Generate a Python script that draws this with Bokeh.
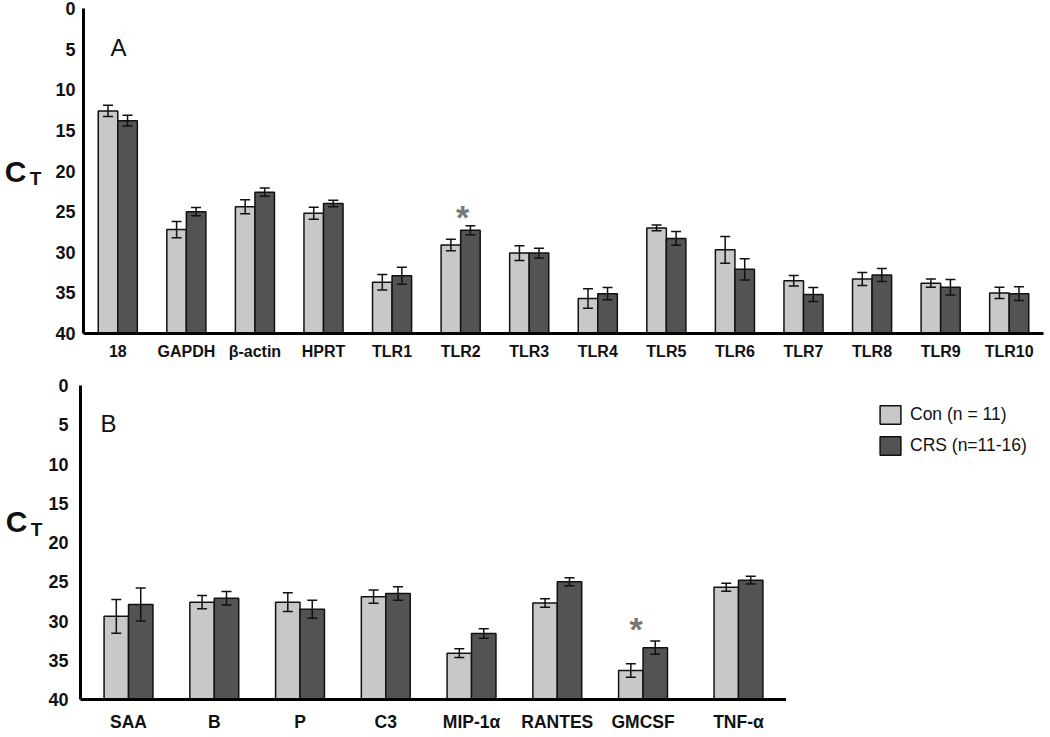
from bokeh.plotting import figure
from bokeh.models import (ColumnDataSource, Range1d, FixedTicker, Whisker, TeeHead,
                          Label, Legend, LegendItem, LinearAxis, FactorRange)
from bokeh.transform import dodge
from bokeh.layouts import row
from bokeh.core.properties import value
from bokeh.embed import file_html
from bokeh.resources import INLINE

# ---------------- data ----------------
genes_a = ["18", "GAPDH", "β-actin", "HPRT", "TLR1", "TLR2", "TLR3", "TLR4",
           "TLR5", "TLR6", "TLR7", "TLR8", "TLR9", "TLR10"]
con_a = [12.6, 27.2, 24.4, 25.2, 33.7, 29.1, 30.1, 35.7, 27.0, 29.7, 33.5, 33.3, 33.8, 35.0]
con_a_err = [0.7, 1.0, 0.85, 0.75, 0.95, 0.7, 0.9, 1.2, 0.35, 1.65, 0.65, 0.8, 0.5, 0.7]
crs_a = [13.8, 25.0, 22.6, 24.0, 32.9, 27.3, 30.1, 35.1, 28.3, 32.1, 35.2, 32.8, 34.3, 35.1]
crs_a_err = [0.65, 0.5, 0.5, 0.4, 1.05, 0.55, 0.6, 0.75, 0.85, 1.3, 0.85, 0.8, 0.95, 0.85]

genes_b = ["SAA", "B", "P", "C3", "MIP-1α", "RANTES", "GMCSF", "TNF-α"]
groups_b = ["g1", "g1", "g1", "g1", "g1", "g1", "g1", "g2"]   # TNF-α sits a little apart
con_b = [29.4, 27.6, 27.6, 26.9, 34.1, 27.7, 36.3, 25.7]
con_b_err = [2.15, 0.85, 1.2, 0.85, 0.55, 0.55, 0.85, 0.5]
crs_b = [27.9, 27.1, 28.5, 26.5, 31.6, 25.0, 33.4, 24.8]
crs_b_err = [2.1, 0.85, 1.15, 0.85, 0.6, 0.5, 0.85, 0.5]

y_ticks = [0, 5, 10, 15, 20, 25, 30, 35, 40]
legend_labels = ["Con (n = 11)", "CRS (n=11-16)"]
star_a = ("TLR2", 24.9)
star_b = (("g1", "GMCSF"), 30.3)

LIGHT = "#c8c8c8"
DARK = "#535353"
INK = "#111111"
FONT = "Liberation Sans"


def make_source(cats, con, con_err, crs, crs_err):
    return ColumnDataSource(dict(
        cat=cats, con=con, crs=crs,
        con_lo=[v - e for v, e in zip(con, con_err)],
        con_hi=[v + e for v, e in zip(con, con_err)],
        crs_lo=[v - e for v, e in zip(crs, crs_err)],
        crs_hi=[v + e for v, e in zip(crs, crs_err)],
    ))


def make_panel(src, xr, width, height, mb, bar_w, tick_fs, tick_standoff,
               c_text, c_lh, t_text, t_lh, t_standoff,
               xlab_fs, xlab_standoff, letter, letter_pos, star, star_dx):
    p = figure(x_range=xr, y_range=Range1d(40, 0), width=width, height=height,
               output_backend="svg", toolbar_location=None,
               min_border_left=mb[0], min_border_right=mb[1],
               min_border_top=mb[2], min_border_bottom=mb[3])
    p.xgrid.visible = False
    p.ygrid.visible = False
    p.outline_line_color = None
    p.background_fill_color = "white"

    off = bar_w / 2
    p.vbar(x=dodge("cat", -off, range=p.x_range), bottom=40, top="con", width=bar_w,
           source=src, fill_color=LIGHT, line_color=INK, line_width=1.5)
    p.vbar(x=dodge("cat", off, range=p.x_range), bottom=40, top="crs", width=bar_w,
           source=src, fill_color=DARK, line_color=INK, line_width=1.5)
    for dx, lo, hi in [(-off, "con_lo", "con_hi"), (off, "crs_lo", "crs_hi")]:
        w = Whisker(source=src, base=dodge("cat", dx, range=p.x_range), lower=lo, upper=hi,
                    line_color=INK, line_width=1.5, level="overlay",
                    upper_head=TeeHead(size=10, line_width=1.5, line_color=INK),
                    lower_head=TeeHead(size=10, line_width=1.5, line_color=INK))
        p.add_layout(w)

    # y axis (tick labels + subscript "T" of C_T)
    ya = p.yaxis[0]
    ya.ticker = FixedTicker(ticks=y_ticks)
    ya.minor_tick_line_color = None
    ya.major_tick_line_color = None
    ya.major_tick_out = 0
    ya.major_tick_in = 0
    ya.axis_line_width = 3
    ya.axis_line_color = "black"
    ya.major_label_text_font = FONT
    ya.major_label_text_font_style = "bold"
    ya.major_label_text_font_size = tick_fs
    ya.major_label_text_color = INK
    ya.major_label_standoff = tick_standoff
    ya.axis_label = t_text
    ya.axis_label_orientation = "horizontal"
    ya.axis_label_text_font = FONT
    ya.axis_label_text_font_style = "bold"
    ya.axis_label_text_font_size = "19px"
    ya.axis_label_text_line_height = t_lh
    ya.axis_label_text_color = INK
    ya.axis_label_standoff = t_standoff

    # outer left axis carrying the big "C" of C_T
    ca = LinearAxis(ticker=FixedTicker(ticks=[]), axis_label=c_text,
                    axis_label_orientation="horizontal", axis_line_color=None,
                    major_tick_line_color=None, minor_tick_line_color=None,
                    major_tick_out=0, major_tick_in=0, major_label_standoff=0,
                    axis_label_standoff=0, axis_label_text_font=FONT,
                    axis_label_text_font_style="bold", axis_label_text_font_size="30px",
                    axis_label_text_line_height=c_lh, axis_label_text_color=INK)
    p.add_layout(ca, "left")

    xa = p.xaxis[0]
    xa.major_tick_line_color = None
    xa.minor_tick_line_color = None
    xa.major_tick_out = 0
    xa.axis_line_width = 3
    xa.axis_line_color = "black"
    xa.major_label_text_font = FONT
    xa.major_label_text_font_style = "bold"
    xa.major_label_text_font_size = xlab_fs
    xa.major_label_text_color = INK
    xa.major_label_standoff = xlab_standoff
    if hasattr(xa, "group_text_font_size"):
        xa.group_text_font_size = "0px"
        xa.group_text_color = None
        xa.separator_line_color = None

    # significance star
    p.text(x=[star[0]], y=[star[1]], text=["*"],
           x_offset=star_dx, y_offset=6, text_font=value(FONT), text_font_style="bold",
           text_font_size="34px", text_color="#777777", text_align="center",
           text_baseline="middle")

    # panel letter
    p.add_layout(Label(x=letter_pos[0], y=letter_pos[1], x_units="screen", y_units="screen",
                       text=letter, text_font=FONT, text_font_size="24px",
                       text_color=INK, text_baseline="alphabetic"))
    return p


factors_b = list(zip(groups_b, genes_b))
srcA = make_source(genes_a, con_a, con_a_err, crs_a, crs_a_err)
srcB = make_source(factors_b, con_b, con_b_err, crs_b, crs_b_err)

xrA = FactorRange(factors=genes_a, range_padding=0)
xrB = FactorRange(factors=factors_b, factor_padding=0, group_padding=0.113,
                  range_padding=0.06, range_padding_units="absolute")

pA = make_panel(srcA, xrA, 1050, 368, (83, 7, 8, 35), 0.285, "18px", 8,
                "C", 1.2, "\nT", 0.75, 11, "16px", 9, "A", (27, 286), star_a, 2)
pB = make_panel(srcB, xrB, 786, 369, (80, 0, 17, 38), 0.285, "18px", 12,
                "C\n", 1.27, "T\n", 1.26, 3, "17.5px", 12, "B", (20, 276), star_b, -7)

# legend panel to the right of panel B (hidden copies of panel B's bars feed the legend)
pL = figure(width=264, height=369, x_range=FactorRange(factors=factors_b),
            y_range=Range1d(40, 0), output_backend="svg", toolbar_location=None,
            min_border_left=0, min_border_right=0, min_border_top=17, min_border_bottom=38)
pL.axis.visible = False
pL.grid.visible = False
pL.outline_line_color = None
lr1 = pL.vbar(x="cat", bottom=40, top="con", width=0.3, source=srcB, fill_color=LIGHT,
              line_color=INK, line_width=1.5, visible=False)
lr2 = pL.vbar(x="cat", bottom=40, top="crs", width=0.3, source=srcB, fill_color=DARK,
              line_color=INK, line_width=1.5, visible=False)
legend = Legend(items=[LegendItem(label=legend_labels[0], renderers=[lr1]),
                       LegendItem(label=legend_labels[1], renderers=[lr2])],
                location=(91, 242), orientation="vertical",
                glyph_width=26, glyph_height=23, spacing=8, padding=0, margin=0,
                label_standoff=7, label_text_font=FONT, label_text_font_size="17.5px",
                label_text_color=INK, border_line_color=None,
                background_fill_alpha=0)
pL.add_layout(legend)

open("out.html", "w").write(file_html([pA, row(pB, pL)], INLINE))
